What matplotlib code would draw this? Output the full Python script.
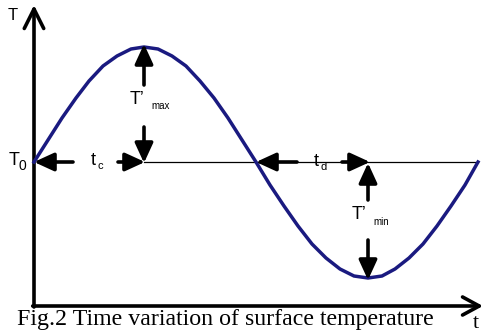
import matplotlib.pyplot as plt

# curve (t and T in pixel-like units, T=0 is the T0 baseline)
t = [0, 14, 28, 42, 55, 69, 83, 97, 110, 124, 138, 152, 166, 180, 194, 208, 222,
     236, 250, 264, 278, 292, 306, 320, 334, 348, 361, 375, 389, 403, 417, 431, 444]
T = [0, 22, 44, 64, 81, 96, 106, 113, 115, 113, 106, 96, 81, 64, 44, 22, 0,
     -23, -44, -64, -82, -96, -107, -114, -116, -114, -107, -96, -82, -64, -44, -23, 0]

t_peak, T_peak = 110, 115
t_cross = 222
t_trough, T_trough = 334, -116
t_end = 444

caption = 'Fig.2 Time variation of surface temperature'

fig = plt.figure(figsize=(4.84, 3.34), dpi=100)
ax = fig.add_axes([0, 0, 1, 1])
ax.set_xlim(-34, 450)
ax.set_ylim(-172, 162)
ax.axis('off')

sans = 'Liberation Sans'
navy = '#1a1a80'

# axes with open arrowheads
ax.annotate('', xy=(0, 157), xytext=(0, -145),
            arrowprops=dict(arrowstyle='->,head_length=1.4,head_width=0.7', lw=2.6, color='black',
                            shrinkA=0, shrinkB=0))
ax.annotate('', xy=(449, -144), xytext=(-1.3, -144),
            arrowprops=dict(arrowstyle='->,head_length=1.2,head_width=0.65', lw=2.6, color='black',
                            shrinkA=0, shrinkB=0))

# baseline
ax.plot([t_peak, t_end], [0, 0], color='black', lw=0.9)

# curve
ax.plot(t, T, color=navy, lw=2.5, zorder=3, solid_joinstyle='round')

def arrow(x0, y0, x1, y1):
    ax.annotate('', xy=(x1, y1), xytext=(x0, y0),
                arrowprops=dict(arrowstyle='-|>,head_length=1.2,head_width=0.55', lw=2.6,
                                color='black', shrinkA=0, shrinkB=0), zorder=4)

# t_c
arrow(39, 0, 0, 0)
arrow(84, 0, t_peak + 1, 0)
# T'max
arrow(t_peak, 77, t_peak, T_peak + 3)
arrow(t_peak, 35, t_peak, -1)
# t_d
arrow(263, 0, t_cross, 0)
arrow(308, 0, t_trough + 2, 0)
# T'min
arrow(t_trough, -38, t_trough, -1)
arrow(t_trough, -78, t_trough, T_trough - 2)

# labels
ax.text(-21, 146, 'T', fontsize=12, family=sans, ha='center', va='center')
ax.text(-20, 1, 'T', fontsize=13, family=sans, ha='center', va='center')
ax.text(-11.5, -4, '0', fontsize=10, family=sans, ha='center', va='center')
ax.text(59.5, 1, 't', fontsize=13, family=sans, ha='center', va='center')
ax.text(66.5, -4.5, 'c', fontsize=8, family=sans, ha='center', va='center')
ax.text(282, 0, 't', fontsize=13, family=sans, ha='center', va='center')
ax.text(289.5, -5, 'd', fontsize=8, family=sans, ha='center', va='center')
ax.text(103, 62, 'T’', fontsize=13, family=sans, ha='center', va='center')
ax.text(127, 56, 'max', fontsize=7, family=sans, ha='center', va='center')
ax.text(325, -53, 'T’', fontsize=13, family=sans, ha='center', va='center')
ax.text(347, -60, 'min', fontsize=7, family=sans, ha='center', va='center')
ax.text(442, -162, 't', fontsize=16, family='Liberation Serif', ha='center', va='center')
ax.text(-17, -158, caption, fontsize=17.2, family='Liberation Serif', ha='left', va='center')

fig.savefig('out.png', dpi=100)
